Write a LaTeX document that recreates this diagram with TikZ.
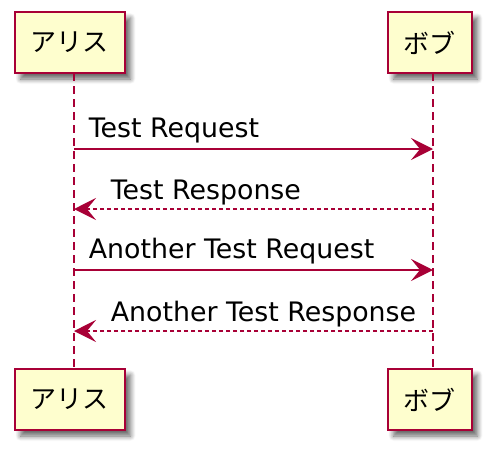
\documentclass[tikz,border=0pt]{standalone}
\usepackage{fontspec}
\setsansfont{DejaVu Sans}
\newfontfamily\jpfont{Noto Sans CJK JP}
\usetikzlibrary{arrows.meta,shadows.blur}

\definecolor{umlred}{HTML}{A80036}
\definecolor{umlfill}{HTML}{FEFECE}

\tikzset{
  part/.style={draw=umlred, fill=umlfill, line width=2pt, minimum height=61pt, inner xsep=16pt,
    font=\jpfont\fontsize{26}{30}\selectfont,
    blur shadow={shadow xshift=6pt, shadow yshift=-6pt, shadow blur steps=8, shadow blur radius=5pt, shadow opacity=60}},
  life/.style={umlred, line width=1.5pt, dash pattern=on 8pt off 5pt},
  msg/.style={umlred, line width=1.8pt, -{Stealth[length=22pt, width=22pt, inset=9pt]}},
  reply/.style={msg, dash pattern=on 4pt off 3pt},
  lbl/.style={black, font=\sffamily\fontsize{26.8}{30}\selectfont, anchor=base west, inner sep=0pt}
}

\begin{document}
\begin{tikzpicture}[x=1pt, y=-1pt]
\useasboundingbox (0,0) rectangle (500,458);
% participants, top and bottom
\node[part] (a0) at (69.5,42.5) {アリス};
\node[part] (b0) at (429.5,42.5) {ボブ};
\node[part] (a9) at (69.5,399.5) {アリス};
\node[part] (b9) at (429.5,399.5) {ボブ};
% lifelines
\coordinate (at) at (74,73); \coordinate (ab) at (74,369);
\coordinate (bt) at (433,73); \coordinate (bb) at (433,369);
\draw[life] (at)--(ab);
\draw[life] (bt)--(bb);
% messages
\coordinate (a1) at (74,149); \coordinate (b1) at (433,149);
\coordinate (a2) at (74,209); \coordinate (b2) at (433,209);
\coordinate (a3) at (74,270); \coordinate (b3) at (433,270);
\coordinate (a4) at (74,331); \coordinate (b4) at (433,331);
\draw[msg](a1)--(b1) node[lbl, at start, xshift=14pt, yshift=12pt]{Test Request};
\draw[reply](b2)--(a2) node[lbl, at end, xshift=36pt, yshift=10pt]{Test Response};
\draw[msg](a3)--(b3) node[lbl, at start, xshift=14pt, yshift=12pt]{Another Test Request};
\draw[reply](b4)--(a4) node[lbl, at end, xshift=36pt, yshift=10pt]{Another Test Response};
\end{tikzpicture}
\end{document}
